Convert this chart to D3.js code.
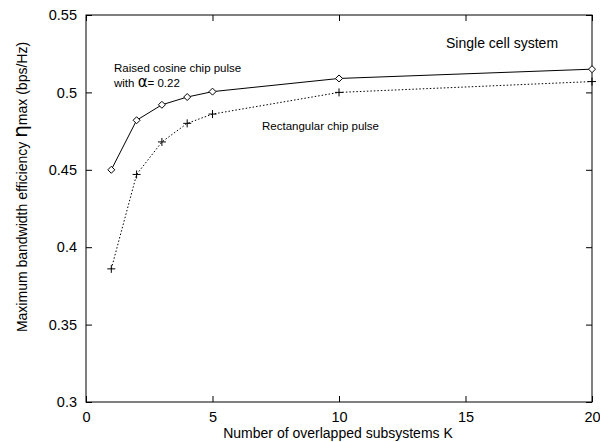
<!DOCTYPE html>
<html>
<head>
<meta charset="utf-8">
<script src="https://cdn.jsdelivr.net/npm/d3@7"></script>
<style>
body { margin: 0; background: #fff; }
text { font-family: "Liberation Sans", Arial, sans-serif; fill: #000; }
</style>
</head>
<body>
<svg width="600" height="442"></svg>
<script>
// data
var kValues = [1, 2, 3, 4, 5, 10, 20];
var raisedCosine = [0.450, 0.482, 0.492, 0.497, 0.5005, 0.509, 0.515];
var rectangular = [0.386, 0.447, 0.468, 0.480, 0.486, 0.500, 0.507];
var xTicks = [0, 5, 10, 15, 20];
var yTicks = [0.3, 0.35, 0.4, 0.45, 0.5, 0.55];

var svg = d3.select("svg"),
    margin = {top: 15, right: 8, bottom: 40, left: 86},
    width = 600 - margin.left - margin.right,
    height = 442 - margin.top - margin.bottom,
    g = svg.append("g").attr("transform", "translate(" + margin.left + "," + margin.top + ")");

var x = d3.scaleLinear().domain([0, 20]).range([0, width]),
    y = d3.scaleLinear().domain([0.3, 0.55]).range([height, 0]);

var line = d3.line()
    .x(function(d) { return x(d.k); })
    .y(function(d) { return y(d.v); });

var series1 = kValues.map(function(k, i) { return {k: k, v: raisedCosine[i]}; }),
    series2 = kValues.map(function(k, i) { return {k: k, v: rectangular[i]}; });

// frame
g.append("rect")
    .attr("width", width).attr("height", height)
    .attr("fill", "none").attr("stroke", "#000").attr("stroke-width", 1);

function styleAxis(sel) {
    sel.select(".domain").remove();
    sel.selectAll("line").attr("stroke", "#000");
}

g.append("g")
    .attr("transform", "translate(0," + height + ")")
    .call(d3.axisBottom(x).tickValues(xTicks).tickSizeInner(-6).tickPadding(10).tickFormat(d3.format("d")))
    .call(styleAxis)
    .selectAll("text").style("font-size", "14.5px");

g.append("g")
    .call(d3.axisTop(x).tickValues(xTicks).tickSizeInner(-6).tickFormat(""))
    .call(styleAxis);

g.append("g")
    .call(d3.axisLeft(y).tickValues(yTicks).tickSizeInner(-6).tickPadding(9).tickFormat(function(d) { return d3.format("")(+d.toFixed(2)); }))
    .call(styleAxis)
    .selectAll("text").style("font-size", "14.5px");

g.append("g")
    .attr("transform", "translate(" + width + ",0)")
    .call(d3.axisRight(y).tickValues(yTicks).tickSizeInner(-6).tickFormat(""))
    .call(styleAxis);

// lines
g.append("path")
    .datum(series1)
    .attr("d", line)
    .attr("fill", "none").attr("stroke", "#000").attr("stroke-width", 1);

g.append("path")
    .datum(series2)
    .attr("d", line)
    .attr("fill", "none").attr("stroke", "#000").attr("stroke-width", 1)
    .attr("stroke-dasharray", "1.5,2");

// diamond markers
g.selectAll(".diamond")
    .data(series1)
  .enter().append("path")
    .attr("class", "diamond")
    .attr("transform", function(d) { return "translate(" + x(d.k) + "," + y(d.v) + ")"; })
    .attr("d", "M0,-3.5L3.5,0L0,3.5L-3.5,0Z")
    .attr("fill", "#fff").attr("stroke", "#000").attr("stroke-width", 1);

// plus markers
g.selectAll(".plus")
    .data(series2)
  .enter().append("path")
    .attr("class", "plus")
    .attr("transform", function(d) { return "translate(" + x(d.k) + "," + y(d.v) + ")"; })
    .attr("d", "M-4,0H4M0,-4V4")
    .attr("fill", "none").attr("stroke", "#000").attr("stroke-width", 1);

// annotations
svg.append("text").attr("x", 114).attr("y", 72).style("font-size", "11.5px").text("Raised cosine chip pulse");
var t = svg.append("text").attr("x", 114).attr("y", 87).style("font-size", "11.5px");
t.append("tspan").text("with  ");
t.append("tspan").style("font-size", "15px").style("font-family", "DejaVu Sans, sans-serif").text("α");
t.append("tspan").text("= 0.22");

svg.append("text").attr("x", 262).attr("y", 130).style("font-size", "11.5px").text("Rectangular chip pulse");
svg.append("text").attr("x", 446).attr("y", 48).style("font-size", "14px").text("Single cell system");

// axis titles
svg.append("text")
    .attr("x", 338).attr("y", 438)
    .attr("text-anchor", "middle").style("font-size", "14px")
    .text("Number of overlapped subsystems K");

var yl = svg.append("text")
    .attr("transform", "translate(27,187) rotate(-90)")
    .attr("text-anchor", "middle").style("font-size", "14px");
yl.append("tspan").text("Maximum bandwidth efficiency  ");
yl.append("tspan").style("font-size", "20px").style("font-family", "DejaVu Sans, sans-serif").text("η");
yl.append("tspan").text("max (bps/Hz)");
</script>
</body>
</html>
